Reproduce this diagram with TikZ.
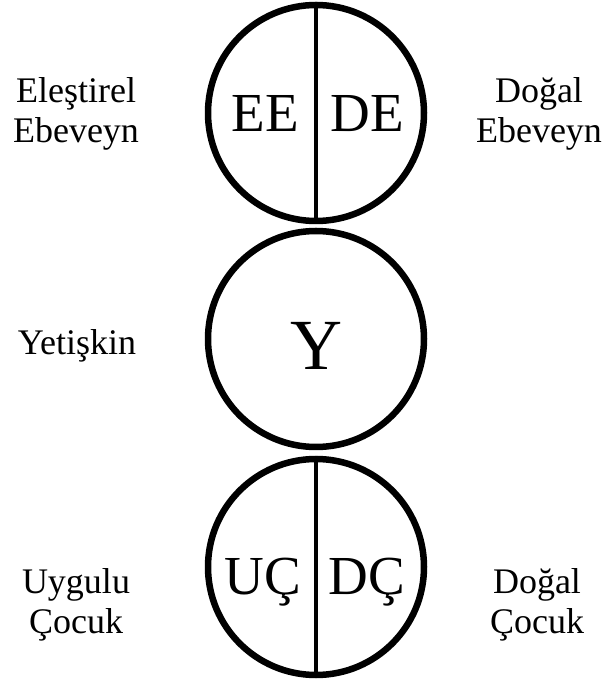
\documentclass[tikz,border=0pt]{standalone}
\usepackage{fontspec}
\setmainfont{Liberation Serif}
\begin{document}
\begin{tikzpicture}[x=1pt,y=1pt,
  ring/.style={circle,draw,line width=6.5pt,minimum size=216pt,inner sep=0pt},
  divider/.style={line width=4.5pt},
  side/.style={align=center,anchor=base,inner sep=0pt,font=\fontsize{36}{40}\selectfont},
  half/.style={anchor=base,inner sep=0pt,font=\fontsize{55}{60}\selectfont},
  big/.style={anchor=base,inner sep=0pt,font=\fontsize{72}{80}\selectfont}]
\useasboundingbox (0,0) rectangle (604,688);
% circles
\node[ring] (P) at (316,575) {};
\node[ring] (A) at (316,349) {};
\node[ring] (C) at (316,121) {};
\draw[divider] (P.north) -- (P.south);
\draw[divider] (C.north) -- (C.south);
% inner texts
\node[half] (ee) at (265,556) {EE};
\node[half] (de) at (367,556) {DE};
\node[big] (y) at (316,318) {Y};
\node[half] (uc) at (263,93) {UÇ};
\node[half] (dc) at (367,93) {DÇ};
% side labels
\node[side] (lee) at (76,545) {Eleştirel\\Ebeveyn};
\node[side] (lde) at (539,545) {Doğal\\Ebeveyn};
\node[side] (ly) at (77,333) {Yetişkin};
\node[side] (luc) at (76,54) {Uygulu\\Çocuk};
\node[side] (ldc) at (537,54) {Doğal\\Çocuk};
\end{tikzpicture}
\end{document}
